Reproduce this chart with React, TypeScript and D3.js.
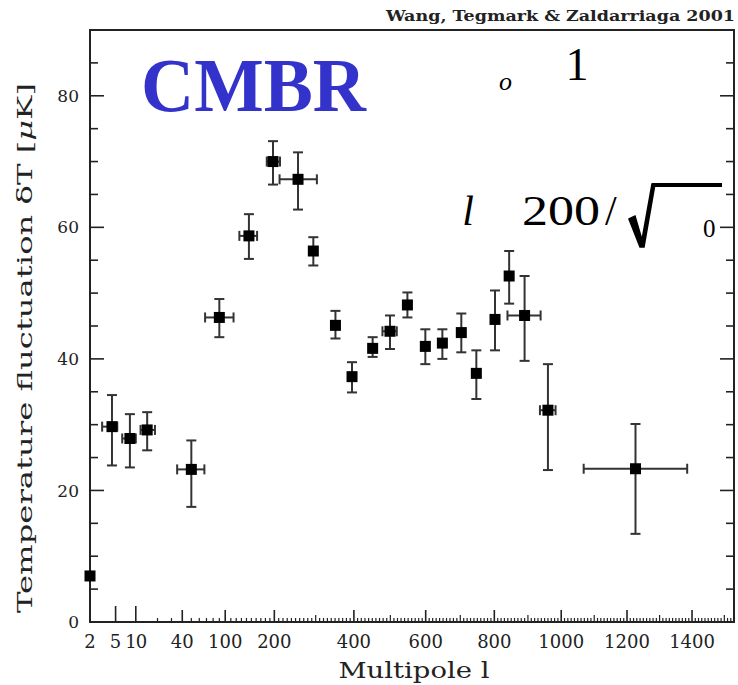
import React, { useEffect, useRef } from "react";
import * as d3 from "d3";

// Multipole l of each band (centre), and horizontal extents where drawn
const ell = [2, 4.4, 8.2, 14.5, 50, 90, 145, 197, 256, 294, 351, 395, 451, 499, 548, 599, 648, 703, 747, 802, 844, 890, 960, 1226];
const ellLo = [null, 3.1, 6.3, 11.7, 35, 68, 126, 183, 212, null, null, null, null, 478, null, null, null, null, null, null, null, 839, 936, 1068];
const ellHi = [null, 5.3, 10, 18.5, 67, 115, 162, 213, 303, null, null, null, null, 518, null, null, null, null, null, null, null, 938, 983, 1385];
// Temperature fluctuation δT [μK]
const dT = [7.0, 29.7, 27.9, 29.2, 23.2, 46.3, 58.7, 70.0, 67.3, 56.4, 45.1, 37.3, 41.6, 44.2, 48.2, 41.9, 42.4, 44.0, 37.8, 46.0, 52.6, 46.6, 32.2, 23.3];
const dTHi = [null, 34.5, 31.6, 31.9, 27.6, 49.1, 62.0, 73.1, 71.4, 58.5, 47.3, 39.5, 43.3, 46.6, 50.1, 44.5, 44.5, 46.9, 41.3, 50.4, 56.4, 52.6, 39.2, 30.1];
const dTLo = [null, 23.8, 23.5, 26.1, 17.5, 43.3, 55.2, 66.5, 62.7, 54.2, 43.1, 34.9, 40.3, 41.5, 46.3, 39.2, 40.0, 41.0, 33.9, 41.3, 48.4, 39.7, 23.1, 13.4];

const xTickLabels = [2, 5, 10, 40, 100, 200, 400, 600, 800, 1000, 1200, 1400];
const yTickLabels = [0, 20, 40, 60, 80];

const W = 738, H = 685;
const L = 90, R = 734, T = 30, B = 622;

export default function App() {
  const ref = useRef<SVGSVGElement>(null);
  useEffect(() => {
    const svg = d3.select(ref.current);
    svg.selectAll("*").remove();
    const g = (l: number) => Math.log(l) + l / 88.5;
    const xs = d3.scaleLinear().domain([g(2), g(1530)]).range([L, R]);
    const x = (l: number) => xs(g(l));
    const y = d3.scaleLinear().domain([0, 90]).range([B, T]);
    const ink = "#222";
    const tickFont = "DejaVu Serif";

    // frame
    svg.append("rect").attr("x", L).attr("y", T).attr("width", R - L).attr("height", B - T)
      .attr("fill", "none").attr("stroke", ink).attr("stroke-width", 2);

    // y ticks left and right
    for (let v = 5; v < 90; v += 5) {
      const major = v % 20 === 0;
      const len = major ? 14 : 8;
      svg.append("line").attr("x1", L).attr("x2", L + len).attr("y1", y(v)).attr("y2", y(v)).attr("stroke", ink).attr("stroke-width", 1.6);
      svg.append("line").attr("x1", R).attr("x2", R - len).attr("y1", y(v)).attr("y2", y(v)).attr("stroke", ink).attr("stroke-width", 1.6);
    }
    yTickLabels.forEach(v => {
      svg.append("text").attr("x", 79).attr("y", y(v)).attr("dy", "0.36em").attr("text-anchor", "end")
        .attr("font-family", tickFont).attr("font-size", 17).attr("fill", ink).text(v);
    });

    // x ticks
    const minor: number[] = [20, 30];
    for (let v = 50; v <= 1520; v += 10) minor.push(v);
    minor.forEach(v => {
      if (xTickLabels.includes(v)) return;
      const len = v % 100 === 0 ? 7 : 4;
      svg.append("line").attr("x1", x(v)).attr("x2", x(v)).attr("y1", B).attr("y2", B - len).attr("stroke", ink).attr("stroke-width", 1.2);
    });
    xTickLabels.forEach(v => {
      if (v === 2) return;
      const len = v === 5 || v === 10 ? 16 : 12;
      svg.append("line").attr("x1", x(v)).attr("x2", x(v)).attr("y1", B).attr("y2", B - len).attr("stroke", ink).attr("stroke-width", 1.6);
    });
    xTickLabels.forEach(v => {
      svg.append("text").attr("x", x(v)).attr("y", 648).attr("text-anchor", "middle")
        .attr("font-family", tickFont).attr("font-size", 18).attr("fill", ink)
        .attr("letter-spacing", v === 10 ? -1 : 0).text(v);
    });

    // axis titles
    svg.append("text").attr("x", 414).attr("y", 678).attr("text-anchor", "middle")
      .attr("font-family", tickFont).attr("font-size", 22).attr("fill", ink)
      .attr("textLength", 151).attr("lengthAdjust", "spacingAndGlyphs").text("Multipole l");
    const yt = svg.append("text").attr("transform", "translate(32,348) rotate(-90)").attr("text-anchor", "middle")
      .attr("font-family", tickFont).attr("font-size", 21).attr("fill", ink)
      .attr("textLength", 530).attr("lengthAdjust", "spacingAndGlyphs");
    yt.append("tspan").text("Temperature fluctuation δT  [");
    yt.append("tspan").attr("font-style", "italic").text("μ");
    yt.append("tspan").text("K]");

    svg.append("text").attr("x", 735).attr("y", 21).attr("text-anchor", "end")
      .attr("font-family", tickFont).attr("font-size", 15).attr("font-weight", "bold").attr("fill", ink)
      .attr("textLength", 349).attr("lengthAdjust", "spacingAndGlyphs").text("Wang, Tegmark & Zaldarriaga 2001");

    // error bars
    const eb = "#333";
    const cap = 5;
    ell.forEach((l, i) => {
      const cx = x(l), cy = y(dT[i]);
      const hi = dTHi[i], lo = dTLo[i];
      if (hi != null && lo != null) {
        svg.append("line").attr("x1", cx).attr("x2", cx).attr("y1", y(hi)).attr("y2", y(lo)).attr("stroke", eb).attr("stroke-width", 2);
        [hi, lo].forEach(v => svg.append("line").attr("x1", cx - cap).attr("x2", cx + cap).attr("y1", y(v)).attr("y2", y(v)).attr("stroke", eb).attr("stroke-width", 2));
      }
      const a = ellLo[i], b = ellHi[i];
      if (a != null && b != null) {
        svg.append("line").attr("x1", x(a)).attr("x2", x(b)).attr("y1", cy).attr("y2", cy).attr("stroke", eb).attr("stroke-width", 2);
        [a, b].forEach(v => svg.append("line").attr("x1", x(v)).attr("x2", x(v)).attr("y1", cy - cap).attr("y2", cy + cap).attr("stroke", eb).attr("stroke-width", 2));
      }
    });
    const s = 11;
    svg.selectAll("rect.pt").data(ell).enter().append("rect").attr("class", "pt")
      .attr("x", d => x(d) - s / 2).attr("y", (d, i) => y(dT[i]) - s / 2)
      .attr("width", s).attr("height", s).attr("fill", "#000");

    // annotations
    svg.append("text").attr("x", 141).attr("y", 111).attr("font-family", "Liberation Serif").attr("font-weight", "bold")
      .attr("font-size", 76).attr("fill", "#3333cc").attr("textLength", 225).attr("lengthAdjust", "spacingAndGlyphs").text("CMBR");
    const serif = "Liberation Serif";
    svg.append("text").attr("x", 499).attr("y", 90).attr("font-family", serif).attr("font-style", "italic")
      .attr("font-size", 26).attr("fill", "#000").text("o");
    svg.append("text").attr("x", 577).attr("y", 80).attr("text-anchor", "middle").attr("font-family", serif)
      .attr("font-size", 46).attr("fill", "#000").text("1");
    svg.append("text").attr("x", 468).attr("y", 225).attr("text-anchor", "middle").attr("font-family", serif).attr("font-style", "italic")
      .attr("font-size", 42).attr("fill", "#000").text("l");
    svg.append("text").attr("x", 522).attr("y", 225).attr("font-family", serif)
      .attr("font-size", 42).attr("fill", "#000").attr("textLength", 78).attr("lengthAdjust", "spacingAndGlyphs").text("200");
    svg.append("text").attr("x", 605).attr("y", 225).attr("font-family", serif)
      .attr("font-size", 42).attr("fill", "#000").text("/");
    svg.append("path").attr("d", "M629,219 L635,216 L642,240 L652,184 L655,184 L644,247 L640,247 Z").attr("fill", "#000")
      .attr("stroke", "#000").attr("stroke-width", 1.5).attr("stroke-linejoin", "miter");
    svg.append("line").attr("x1", 652).attr("x2", 722).attr("y1", 185).attr("y2", 185).attr("stroke", "#000").attr("stroke-width", 4);
    svg.append("text").attr("x", 703).attr("y", 237).attr("font-family", serif)
      .attr("font-size", 25).attr("fill", "#000").text("0");
  }, []);
  return (
    <svg ref={ref} width={W} height={H} style={{ position: "absolute", left: 0, top: 0, background: "#fff" }} />
  );
}
